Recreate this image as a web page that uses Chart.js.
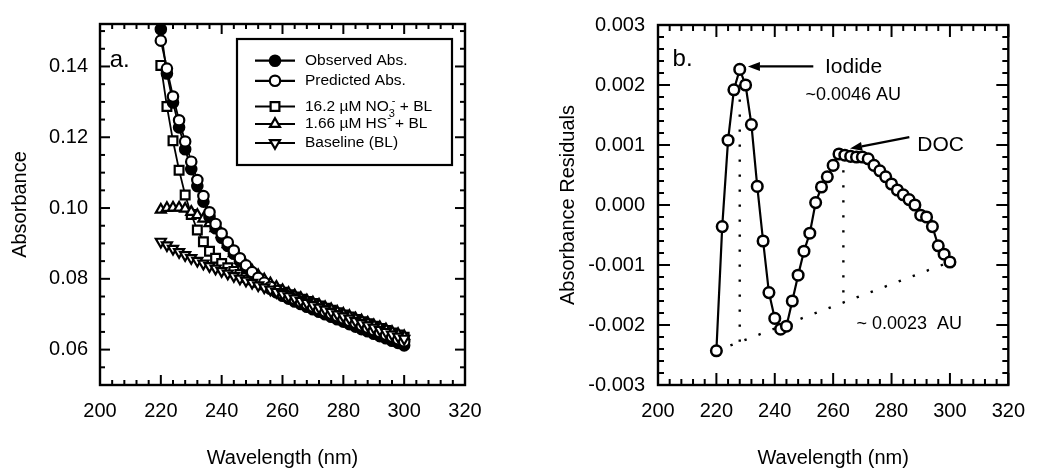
<!DOCTYPE html>
<html>
<head>
<meta charset="utf-8">
<script src="https://cdn.jsdelivr.net/npm/chart.js@4.4.1/dist/chart.umd.min.js"></script>
<style>
  body { margin: 0; background: #fff; }
  #wrap { position: relative; width: 1039px; height: 471px; overflow: hidden; }
  canvas { position: absolute; top: 0; }
  #absChart { left: 0; }
  #resChart { left: 520px; }
</style>
</head>
<body>
<div id="wrap">
  <canvas id="absChart" width="520" height="471"></canvas>
  <canvas id="resChart" width="519" height="471"></canvas>
</div>
<script>
// wavelengths (nm) shared by every series
const wavelengths = [220, 222, 224, 226, 228, 230, 232, 234, 236, 238, 240, 242, 244, 246, 248, 250, 252, 254, 256, 258, 260,
  262, 264, 266, 268, 270, 272, 274, 276, 278, 280, 282, 284, 286, 288, 290, 292, 294, 296, 298, 300];

// panel a. absorbance
const observedAbs = [0.1505, 0.1380, 0.1298, 0.1228, 0.1166, 0.1110, 0.1062, 0.1018, 0.0975, 0.0943, 0.0916, 0.0893, 0.0871, 0.0850,
  0.0831, 0.0813, 0.0798, 0.0784, 0.0772, 0.0762, 0.0752, 0.0744, 0.0736, 0.0729, 0.0721, 0.0714, 0.0707, 0.0700, 0.0693, 0.0686,
  0.0679, 0.0672, 0.0665, 0.0658, 0.0652, 0.0645, 0.0638, 0.0632, 0.0625, 0.0619, 0.0612];
const predictedAbs = [0.1473, 0.1394, 0.1315, 0.1248, 0.1188, 0.1131, 0.1079, 0.1034, 0.0988, 0.0955, 0.0928, 0.0903, 0.0880, 0.0858,
  0.0838, 0.0819, 0.0803, 0.0789, 0.0777, 0.0766, 0.0757, 0.0749, 0.0742, 0.0735, 0.0728, 0.0721, 0.0714, 0.0708, 0.0701, 0.0694,
  0.0688, 0.0681, 0.0675, 0.0668, 0.0662, 0.0655, 0.0649, 0.0642, 0.0636, 0.0629, 0.0623];
const nitrateBL = [0.1403, 0.1287, 0.1190, 0.1107, 0.1037, 0.0982, 0.0938, 0.0905, 0.0878, 0.0858, 0.0843, 0.0831, 0.0821, 0.0812,
  0.0804, 0.0797, 0.0790, 0.0783, 0.0776, 0.0769, 0.0762, 0.0755, 0.0749, 0.0742, 0.0736, 0.0730, 0.0723, 0.0717, 0.0711, 0.0704,
  0.0698, 0.0692, 0.0685, 0.0679, 0.0673, 0.0666, 0.0660, 0.0654, 0.0647, 0.0641, 0.0635];
const sulfideBL = [0.0995, 0.1000, 0.1001, 0.1001, 0.0998, 0.0989, 0.0980, 0.0970, 0.0957, 0.0943, 0.0926, 0.0898, 0.0872, 0.0853,
  0.0837, 0.0823, 0.0810, 0.0798, 0.0787, 0.0777, 0.0768, 0.0760, 0.0753, 0.0746, 0.0739, 0.0733, 0.0727, 0.0720, 0.0714, 0.0707,
  0.0701, 0.0695, 0.0688, 0.0682, 0.0676, 0.0669, 0.0663, 0.0657, 0.0650, 0.0644, 0.0638];
const baselineAbs = [0.0905, 0.0895, 0.0885, 0.0876, 0.0867, 0.0859, 0.0851, 0.0843, 0.0836, 0.0829, 0.0822, 0.0815, 0.0808, 0.0801,
  0.0795, 0.0789, 0.0782, 0.0776, 0.0770, 0.0763, 0.0757, 0.0751, 0.0745, 0.0738, 0.0732, 0.0726, 0.0719, 0.0713, 0.0707, 0.0700,
  0.0694, 0.0688, 0.0681, 0.0675, 0.0669, 0.0662, 0.0656, 0.0650, 0.0643, 0.0637, 0.0631];

// panel b. residuals
const residuals = [-0.00243, -0.00036, 0.00108, 0.00192, 0.00226, 0.00200, 0.00134, 0.00031, -0.00060, -0.00146, -0.00189, -0.00207,
  -0.00202, -0.00160, -0.00117, -0.00077, -0.00047, 0.00004, 0.00030, 0.00047, 0.00066, 0.00085, 0.00083, 0.00081, 0.00080, 0.00080,
  0.00077, 0.00066, 0.00057, 0.00047, 0.00035, 0.00025, 0.00017, 0.00009, 0.00000, -0.00017, -0.00020, -0.00036, -0.00068, -0.00082,
  -0.00095];
// dotted guide lines (wavelength, residual)
const residualBaseline = [[220, -0.00243], [300, -0.00095]];
const iodideDrop = [[228, 0.00226], [228, -0.00228]];
const docDrop = [[263.5, 0.00083], [263.5, -0.00163]];

// tick labels
const wavelengthTicks = [200, 220, 240, 260, 280, 300, 320];
const absTicks = [0.06, 0.08, 0.10, 0.12, 0.14];
const residualTicks = [-0.003, -0.002, -0.001, 0, 0.001, 0.002, 0.003];

const legendLabels = [
  [{t: 'Observed Abs.'}],
  [{t: 'Predicted Abs.'}],
  [{t: '16.2 µM NO'}, {t: '3', sub: true}, {t: '-', sup: true}, {t: ' + BL'}],
  [{t: '1.66 µM HS'}, {t: '-', sup: true}, {t: ' + BL'}],
  [{t: 'Baseline (BL)'}]
];

const FONT = "'Liberation Sans', Arial, Helvetica, sans-serif";

function pts(ys) {
  return wavelengths.map((w, i) => ({x: w, y: ys[i]}));
}

function drawMarker(ctx, style, x, y, r, rot) {
  ctx.beginPath();
  if (style === 'circle') {
    ctx.arc(x, y, r, 0, Math.PI * 2);
  } else if (style === 'rect') {
    const s = r * Math.SQRT1_2;
    ctx.rect(x - s, y - s, 2 * s, 2 * s);
  } else if (style === 'triangle') {
    const d = rot ? -1 : 1;
    ctx.moveTo(x, y - d * r);
    ctx.lineTo(x + Math.sin(Math.PI / 3) * r, y + d * r / 2);
    ctx.lineTo(x - Math.sin(Math.PI / 3) * r, y + d * r / 2);
    ctx.closePath();
  }
  ctx.fill();
  ctx.stroke();
}

// frame with inward ticks on all four sides, text notes and arrows
const decorPlugin = {
  id: 'decor',
  afterDatasetsDraw(chart, args, o) {
    const {ctx, chartArea: a, scales: {x, y}} = chart;
    ctx.save();
    ctx.strokeStyle = '#000';
    ctx.lineWidth = 2;
    const seg = (x1, y1, x2, y2) => { ctx.beginPath(); ctx.moveTo(x1, y1); ctx.lineTo(x2, y2); ctx.stroke(); };
    const isMajor = (v, list) => list.some(t => Math.abs(t - v) < 1e-9);

    let n = Math.round((x.max - x.min) / o.xMinor);
    for (let i = 0; i <= n; i++) {
      const v = x.min + i * o.xMinor;
      const len = isMajor(v, wavelengthTicks) ? o.major : o.minor;
      const px = x.getPixelForValue(v);
      seg(px, a.bottom, px, a.bottom - len);
      seg(px, a.top, px, a.top + len);
    }
    n = Math.floor((y.max - o.yStart) / o.yMinor + 1e-6);
    for (let i = 0; i <= n; i++) {
      const v = o.yStart + i * o.yMinor;
      const len = isMajor(v, o.yMajors) ? o.major : o.minor;
      const py = y.getPixelForValue(v);
      seg(a.left, py, a.left + len, py);
      seg(a.right, py, a.right - len, py);
    }
    ctx.lineWidth = 2.4;
    ctx.strokeRect(a.left, a.top, a.width, a.height);
    ctx.restore();
  },
  afterDraw(chart, args, o) {
    const {ctx, scales: {x, y}} = chart;
    ctx.save();
    ctx.fillStyle = '#000';
    ctx.strokeStyle = '#000';
    ctx.textBaseline = 'middle';
    (o.notes || []).forEach(nt => {
      ctx.font = nt.size + 'px ' + FONT;
      ctx.textAlign = 'left';
      ctx.fillText(nt.text, x.getPixelForValue(nt.x), y.getPixelForValue(nt.y));
    });
    (o.arrows || []).forEach(ar => {
      const x1 = x.getPixelForValue(ar.from[0]), y1 = y.getPixelForValue(ar.from[1]);
      const x2 = x.getPixelForValue(ar.to[0]), y2 = y.getPixelForValue(ar.to[1]);
      const ang = Math.atan2(y2 - y1, x2 - x1);
      const hl = 12, hw = 4.5;
      ctx.lineWidth = 2.2;
      ctx.beginPath();
      ctx.moveTo(x1, y1);
      ctx.lineTo(x2 - Math.cos(ang) * hl, y2 - Math.sin(ang) * hl);
      ctx.stroke();
      ctx.beginPath();
      ctx.moveTo(x2, y2);
      ctx.lineTo(x2 - Math.cos(ang) * hl - Math.sin(ang) * hw, y2 - Math.sin(ang) * hl + Math.cos(ang) * hw);
      ctx.lineTo(x2 - Math.cos(ang) * hl + Math.sin(ang) * hw, y2 - Math.sin(ang) * hl - Math.cos(ang) * hw);
      ctx.closePath();
      ctx.fill();
    });
    if (o.legend) {
      const L = o.legend;
      ctx.fillStyle = '#fff';
      ctx.fillRect(L.left, L.top, L.width, L.height);
      ctx.lineWidth = 2.2;
      ctx.strokeRect(L.left, L.top, L.width, L.height);
      const sets = L.order.map(i => chart.data.datasets[i]);
      sets.forEach((ds, k) => {
        const ry = L.rows[k];
        ctx.lineWidth = 2.2;
        ctx.strokeStyle = '#000';
        ctx.beginPath();
        ctx.moveTo(L.lineFrom, ry);
        ctx.lineTo(L.lineTo, ry);
        ctx.stroke();
        ctx.fillStyle = ds.pointBackgroundColor;
        drawMarker(ctx, ds.pointStyle, (L.lineFrom + L.lineTo) / 2, ry, ds.pointRadius, ds.pointRotation);
        ctx.fillStyle = '#000';
        let tx = L.textX;
        let subW = 0;
        legendLabels[k].forEach(p => {
          if (p.sub || p.sup) {
            ctx.font = '11px ' + FONT;
            const off = p.sub ? 7 : -6;
            const sx = p.sup && subW ? tx - subW + 3 : tx;
            ctx.fillText(p.t, sx, ry + off);
            const w = ctx.measureText(p.t).width;
            if (p.sub) { subW = w; tx += w; } else { tx = Math.max(tx, sx + w); }
          } else {
            ctx.font = '15.5px ' + FONT;
            ctx.fillText(p.t, tx, ry);
            tx += ctx.measureText(p.t).width;
          }
        });
      });
    }
    ctx.restore();
  }
};

function axisX(areaHeight) {
  return {
    type: 'linear', min: 200, max: 320,
    afterBuildTicks: s => { s.ticks = wavelengthTicks.map(v => ({value: v})); },
    afterFit: s => { s.height = areaHeight; },
    grid: {display: false, drawTicks: false},
    border: {display: false},
    ticks: {font: {family: FONT, size: 20}, color: '#000', padding: 14, maxRotation: 0, autoSkip: false},
    title: {display: true, text: 'Wavelength (nm)', font: {family: FONT, size: 20}, color: '#000', padding: {top: 0, bottom: 1}}
  };
}

function axisY(min, max, tickList, digits, width, label, tickPad, titlePad) {
  return {
    type: 'linear', min: min, max: max,
    afterBuildTicks: s => { s.ticks = tickList.map(v => ({value: v})); },
    afterFit: s => { s.width = width; },
    grid: {display: false, drawTicks: false},
    border: {display: false},
    ticks: {font: {family: FONT, size: 20}, color: '#000', padding: tickPad, autoSkip: false,
      callback: v => Number(v).toFixed(digits)},
    title: {display: true, text: label, font: {family: FONT, size: 20}, color: '#000', padding: {top: titlePad, bottom: 0}}
  };
}

const absSeries = [
  {label: 'Observed Abs.', data: pts(observedAbs), pointStyle: 'circle', pointRadius: 5.2, pointBackgroundColor: '#000', order: 3},
  {label: 'Predicted Abs.', data: pts(predictedAbs), pointStyle: 'circle', pointRadius: 5.2, pointBackgroundColor: '#fff', order: 2},
  {label: '16.2 µM NO3- + BL', data: pts(nitrateBL), pointStyle: 'rect', pointRadius: 6.2, pointBackgroundColor: '#fff', order: 5},
  {label: '1.66 µM HS- + BL', data: pts(sulfideBL), pointStyle: 'triangle', pointRadius: 5.8, pointBackgroundColor: '#fff', order: 4},
  {label: 'Baseline (BL)', data: pts(baselineAbs), pointStyle: 'triangle', pointRotation: 180, pointRadius: 5.8, pointBackgroundColor: '#fff', order: 1}
].map(d => Object.assign({
  borderColor: '#000', borderWidth: 1.8, pointBorderColor: '#000', pointBorderWidth: 2.2, tension: 0, clip: 4
}, d));

new Chart(document.getElementById('absChart'), {
  type: 'line',
  data: {datasets: absSeries},
  plugins: [decorPlugin],
  options: {
    responsive: false, animation: false, devicePixelRatio: 1,
    layout: {padding: {top: 18, right: 55, left: 0, bottom: 0}},
    plugins: {
      legend: {display: false}, tooltip: {enabled: false},
      decor: {
        xMinor: 4, yStart: 0.05, yMinor: 0.005, yMajors: absTicks, major: 10, minor: 5,
        notes: [{text: 'a.', x: 203.2, y: 0.1418, size: 24}],
        legend: {left: 237, top: 39, width: 215, height: 126, lineFrom: 255, lineTo: 295, textX: 305,
          rows: [60.7, 80.8, 106.5, 124, 143], order: [0, 1, 2, 3, 4]}
      }
    },
    scales: {
      x: axisX(86),
      y: axisY(0.05, 0.152, absTicks, 2, 100, 'Absorbance', 12, 8)
    }
  }
});

const dotted = {borderColor: '#000', borderWidth: 2.4, borderDash: [2.4, 12.6], pointRadius: 0, tension: 0, order: 5};

new Chart(document.getElementById('resChart'), {
  type: 'line',
  data: {
    datasets: [
      {label: 'Residuals', data: pts(residuals), borderColor: '#000', borderWidth: 2.2, pointStyle: 'circle', pointRadius: 5.3,
        pointBackgroundColor: '#fff', pointBorderColor: '#000', pointBorderWidth: 2.5, tension: 0, order: 1, clip: 4},
      Object.assign({label: 'baseline', data: residualBaseline.map(p => ({x: p[0], y: p[1]}))}, dotted),
      Object.assign({label: 'iodide', data: iodideDrop.map(p => ({x: p[0], y: p[1]}))}, dotted),
      Object.assign({label: 'doc', data: docDrop.map(p => ({x: p[0], y: p[1]}))}, dotted)
    ]
  },
  plugins: [decorPlugin],
  options: {
    responsive: false, animation: false, devicePixelRatio: 1,
    layout: {padding: {top: 20, right: 16, left: 0, bottom: 0}},
    plugins: {
      legend: {display: false}, tooltip: {enabled: false},
      decor: {
        xMinor: 4, yStart: -0.003, yMinor: 0.0002, yMajors: residualTicks, major: 12, minor: 6,
        notes: [
          {text: 'b.', x: 205, y: 0.00242, size: 24},
          {text: 'Iodide', x: 257.2, y: 0.00229, size: 21},
          {text: '~0.0046 AU', x: 250.5, y: 0.00184, size: 18},
          {text: 'DOC', x: 288.8, y: 0.00100, size: 21},
          {text: '~ 0.0023  AU', x: 268, y: -0.00199, size: 18}
        ],
        arrows: [
          {from: [253.2, 0.00231], to: [230.8, 0.00231]},
          {from: [286.1, 0.00113], to: [265.8, 0.00094]}
        ]
      }
    },
    scales: {
      x: axisX(86),
      y: axisY(-0.003, 0.003, residualTicks, 3, 138, 'Absorbance Residuals', 13, 36)
    }
  }
});
</script>
</body>
</html>
